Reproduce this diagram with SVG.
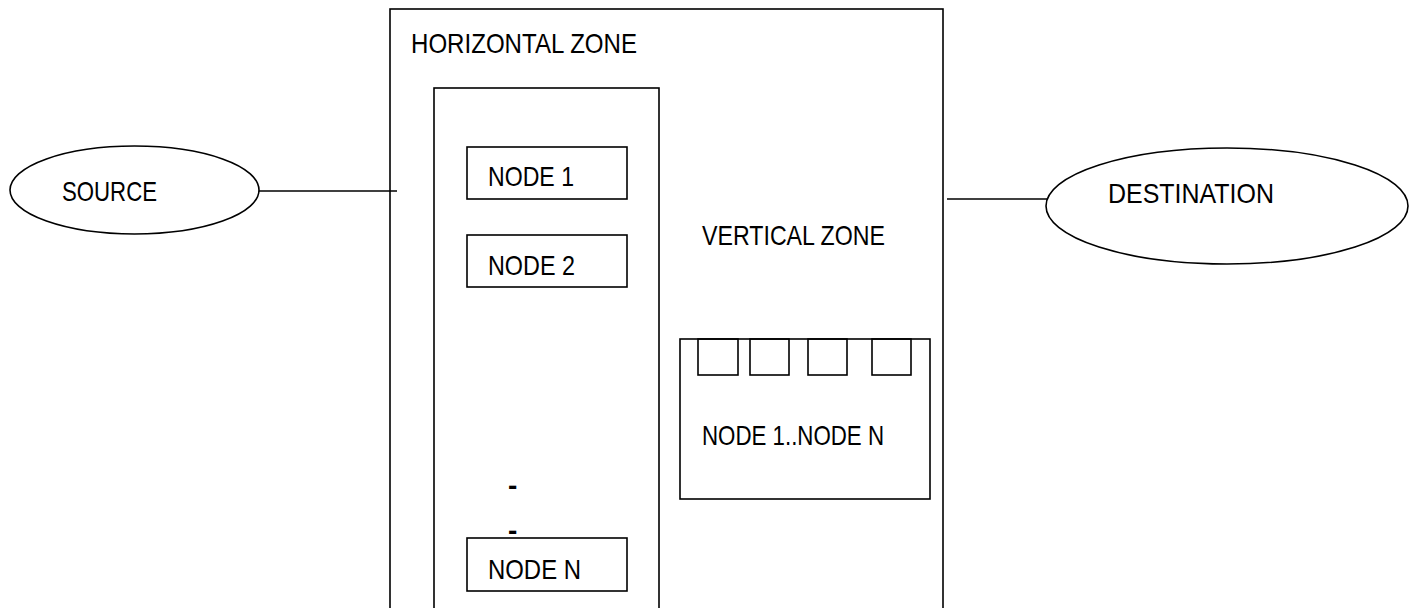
<svg xmlns="http://www.w3.org/2000/svg" width="1418" height="608" viewBox="0 0 1418 608">
<style>
.s{fill:none;stroke:#000;stroke-width:1.6}
.w{fill:#fff;stroke:#000;stroke-width:1.6}
.t{font-family:"Liberation Sans",Arial,sans-serif;font-size:28.5px;fill:#000}
.d{font-family:"Liberation Sans",Arial,sans-serif;font-size:28px;font-weight:bold;fill:#000}
</style>
<rect width="1418" height="608" fill="#fff"/>
<g id="connectors">
<line class="s" x1="259" y1="191" x2="397" y2="191"/>
<line class="s" x1="947" y1="199" x2="1047" y2="199"/>
</g>
<g id="horizontal-zone">
<rect class="s" x="390" y="9" width="553" height="620"/>
<text class="t" x="411" y="53" textLength="226" lengthAdjust="spacingAndGlyphs">HORIZONTAL ZONE</text>
</g>
<g id="column">
<rect class="s" x="434" y="88" width="225" height="540"/>
</g>
<g id="node1">
<rect class="s" x="467" y="147" width="160" height="52"/>
<text class="t" x="488" y="186" textLength="86" lengthAdjust="spacingAndGlyphs">NODE 1</text>
</g>
<g id="node2">
<rect class="s" x="467" y="235" width="160" height="52"/>
<text class="t" x="488" y="275" textLength="87" lengthAdjust="spacingAndGlyphs">NODE 2</text>
</g>
<g id="dots">
<text class="d" x="508" y="495">-</text>
<text class="d" x="508" y="540">-</text>
</g>
<g id="nodeN">
<rect class="s" x="467" y="538" width="160" height="53"/>
<text class="t" x="488" y="579" textLength="93" lengthAdjust="spacingAndGlyphs">NODE N</text>
</g>
<g id="vertical-zone-label">
<text class="t" x="702" y="245" textLength="183" lengthAdjust="spacingAndGlyphs">VERTICAL ZONE</text>
</g>
<g id="vertical-zone">
<rect class="s" x="680" y="339" width="250" height="160"/>
<rect class="s" x="698" y="339" width="40" height="36"/>
<rect class="s" x="750" y="339" width="39" height="36"/>
<rect class="s" x="808" y="339" width="39" height="36"/>
<rect class="s" x="872" y="339" width="39" height="36"/>
<text class="t" x="702" y="445" textLength="182" lengthAdjust="spacingAndGlyphs">NODE 1..NODE N</text>
</g>
<g id="source">
<ellipse class="w" cx="134.5" cy="190" rx="124.5" ry="44"/>
<text class="t" x="62" y="201" textLength="95" lengthAdjust="spacingAndGlyphs">SOURCE</text>
</g>
<g id="destination">
<ellipse class="w" cx="1227" cy="206" rx="181" ry="58"/>
<text class="t" x="1108" y="203" textLength="166" lengthAdjust="spacingAndGlyphs">DESTINATION</text>
</g>
</svg>
